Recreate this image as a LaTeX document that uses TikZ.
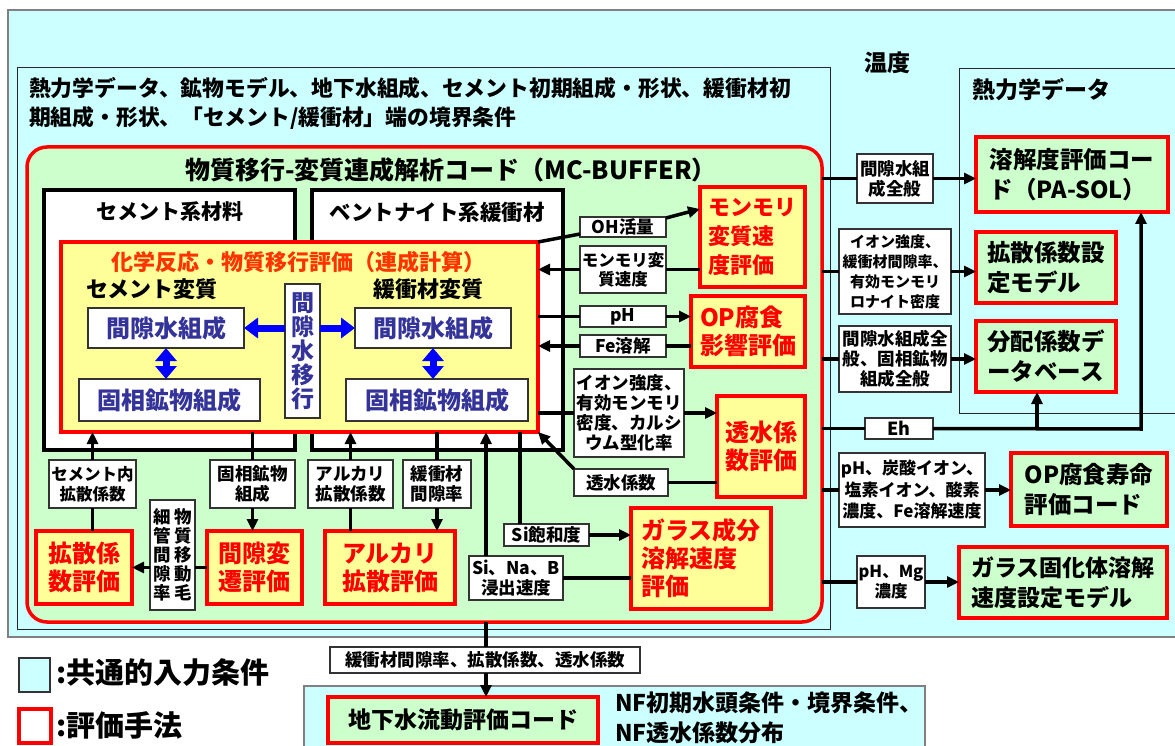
\documentclass[tikz,border=0pt]{standalone}
\usepackage{fontspec}
\setmainfont{Noto Sans CJK JP}
\usetikzlibrary{arrows.meta,calc}
\definecolor{cy}{HTML}{CCFFFF}
\definecolor{gr}{HTML}{CCFFCC}
\definecolor{ye}{HTML}{FFFF99}
\definecolor{nv}{HTML}{333399}
\definecolor{bl}{HTML}{0000FF}
\definecolor{og}{HTML}{FF3300}
\definecolor{rd}{HTML}{FF0000}
\newcommand\fz[2]{\fontsize{#1}{#2}\selectfont\bfseries}
\newcommand\bx[7]{\node[#1, minimum width={(#5)-(#3)}, minimum height={(#6)-(#4)}] (#2) at ({((#3)+(#5))/2},{((#4)+(#6))/2}) {#7};}
\tikzset{
 every node/.style={inner sep=0pt, outer sep=0pt, font=\bfseries},
 lab/.style={draw=black!80, line width=1.2pt, fill=white, align=center, font=\fz{17.5}{20}},
 evl/.style={draw=rd, line width=3.5pt, fill=ye, text=rd, align=left, font=\fz{24}{28}},
 evg/.style={draw=rd, line width=3.5pt, fill=gr, align=left, font=\fz{23.5}{30}},
 blu/.style={draw=black!80, line width=1.2pt, fill=white, text=nv, font=\fz{24}{24}},
 conn/.style={line width=3.5pt, black},
 arr/.style={conn, -{Triangle[length=12pt,width=11pt]}},
 blarr/.style={line width=7pt, bl, -{Triangle[length=14pt,width=20pt]}},
 bldarr/.style={line width=7pt, bl, {Triangle[length=13pt,width=21pt]}-{Triangle[length=13pt,width=21pt]}},
}
\begin{document}
\begin{tikzpicture}[x=1pt,y=-1pt]
\useasboundingbox (0,0) rectangle (1175,746);
% common input frames
\bx{draw=black!50, line width=2pt, fill=cy}{outer}{8}{10}{1190}{637}{}
\bx{draw=black!85, line width=1pt, fill=cy}{inl}{17}{68}{830}{629}{}
\bx{draw=black!85, line width=1pt, fill=cy}{inr}{959}{69}{1195}{413}{}
\node[anchor=west, align=left, font=\fz{21.8}{29}] (intext) at (29,103) {熱力学データ、鉱物モデル、地下水組成、セメント初期組成・形状、緩衝材初\\期組成・形状、「セメント/緩衝材」端の境界条件};
\node[font=\fz{23}{23}] (ondo) at (887,63) {温度};
\node[anchor=west, font=\fz{23}{23}] (netsu) at (972,90) {熱力学データ};
% MC-BUFFER
\bx{draw=rd, line width=3.5pt, fill=gr, rounded corners=20pt}{mc}{27}{147}{822}{622}{}
\node[font=\fz{25}{25}] (mct) at (451,170) {物質移行-変質連成解析コード（MC-BUFFER）};
\bx{draw=black, line width=4pt, fill=white}{cem}{44}{190}{295}{450}{}
\bx{draw=black, line width=4pt, fill=white}{ben}{312}{190}{563}{450}{}
\node[font=\fz{21}{21}] (cemt) at (170,212) {セメント系材料};
\node[font=\fz{21.5}{21}] (bent) at (437,212) {ベントナイト系緩衝材};
% coupled calculation
\bx{draw=rd, line width=3.5pt, fill=ye}{yel}{61}{242}{538}{432}{}
\node[text=og, font=\fz{22}{22}] (yt) at (298,262) {化学反応・物質移行評価（連成計算）};
\node[font=\fz{22}{22}] (cemh) at (152,289) {セメント変質};
\node[font=\fz{22}{22}] (benh) at (428,289) {緩衝材変質};
\bx{blu}{bl1}{88}{308}{244}{348}{間隙水組成}
\bx{blu}{bl2}{79}{379}{260}{421}{固相鉱物組成}
\bx{blu}{br1}{355}{308}{511}{348}{間隙水組成}
\bx{blu}{br2}{346}{379}{528}{421}{固相鉱物組成}
\bx{blu, font=\fz{23}{24}, align=center}{kv}{285}{284}{320}{418}{間\\隙\\水\\移\\行}
\draw[blarr] (kv.west |- bl1.east) -- (bl1.east);
\draw[blarr] (kv.east |- br1.west) -- (br1.west);
\draw[bldarr] (bl1.south) -- (bl1.south |- bl2.north);
\draw[bldarr] (br1.south) -- (br1.south |- br2.north);
% right-side evaluations inside MC-BUFFER
\bx{lab}{oh}{580}{217}{666}{237}{OH活量}
\bx{lab, font=\fz{16.5}{19}}{msl}{580}{246}{666}{293}{モンモリ変\\質速度}
\bx{lab}{ph}{580}{306}{666}{327}{pH}
\bx{lab}{fe}{580}{335}{666}{357}{Fe溶解}
\bx{lab}{ion}{574}{369}{684}{457}{イオン強度、\\有効モンモリ\\密度、カルシ\\ウム型化率}
\bx{lab}{tsl}{574}{469}{668}{496}{透水係数}
\bx{lab}{sih}{504}{524}{589}{546}{Si飽和度}
\bx{lab}{sinab}{469}{556}{563}{600}{Si、Na、B\\浸出速度}
\bx{evl, font=\fz{22}{29}}{mon}{700}{187}{805}{287}{モンモリ\\変質速\\度評価}
\bx{evl}{op}{691}{296}{805}{367}{OP腐食\\影響評価}
\bx{evl}{tse}{717}{396}{805}{497}{透水係\\数評価}
\bx{evl}{glass}{631}{508}{771}{609}{ガラス成分\\溶解速度\\評価}
\draw[conn] (yel.north east) -- ($(oh.west)+(0,7)$);
\draw[arr] ($(oh.east)+(0,-9)$) -- ($(mon.north west)+(0,22)$);
\draw[conn] (mon.west |- msl) -- (msl.east);
\draw[arr] (msl.west) -- (yel.east |- msl);
\draw[conn] (yel.east |- ph) -- (ph.west);
\draw[arr] (ph.east) -- (op.west |- ph);
\draw[conn] (op.west |- fe) -- (fe.east);
\draw[arr] (fe.west) -- (yel.east |- fe);
\draw[conn] (yel.east |- ion) -- (ion.west);
\draw[arr] (ion.east) -- (tse.west |- ion);
\draw[conn] (tse.west |- tsl) -- (tsl.east);
\draw[arr] (tsl.north west) -- (yel.south east);
\coordinate (sx) at (486,0);
\coordinate (sx2) at (520,0);
\draw[arr] (sinab.north -| sx) -- (yel.south -| sx);
\draw[conn] (yel.south -| sx2) -- (sih.north -| sx2);
\draw[arr] (sih.east) -- (glass.west |- sih);
\draw[conn] (glass.west |- sinab) -- (sinab.east);
% bottom-left evaluations
\bx{lab, font=\fz{16.5}{20}}{semlab}{49}{460}{136}{508}{セメント内\\拡散係数}
\bx{lab}{koso}{210}{460}{295}{508}{固相鉱物\\組成}
\bx{lab}{alklab}{308}{460}{393}{508}{アルカリ\\拡散係数}
\bx{lab}{kanlab}{403}{460}{471}{508}{緩衝材\\間隙率}
\bx{lab, font=\fz{17.5}{19}}{vl}{150}{500}{195}{610}{細\hspace{4pt}物\\管\hspace{4pt}質\\間\hspace{4pt}移\\隙\hspace{4pt}動\\率\hspace{4pt}毛}
\bx{evl}{kakusan}{36}{531}{132}{604}{拡散係\\数評価}
\bx{evl}{kanhen}{207}{531}{302}{604}{間隙変\\遷評価}
\bx{evl}{alkhyo}{325}{531}{455}{604}{アルカリ\\拡散評価}
\draw[conn] (kakusan.north -| semlab) -- (semlab.south);
\draw[arr] (semlab.north) -- (semlab.north |- yel.south);
\draw[conn] (koso.north |- yel.south) -- (koso.north);
\draw[arr] (koso.south) -- (koso.south |- kanhen.north);
\draw[conn] (alkhyo.north -| alklab) -- (alklab.south);
\draw[arr] (alklab.north) -- (alklab.north |- yel.south);
\draw[conn] (kanlab.north |- yel.south) -- (kanlab.north);
\draw[arr] (kanlab.south) -- (kanlab.south |- alkhyo.north);
\draw[conn] (kanhen.west) -- (vl.east |- kanhen.west);
\draw[arr] (vl.west |- kakusan.east) -- (kakusan.east);
% right column
\bx{evg}{sol}{976}{137}{1168}{212}{溶解度評価コー\\ド（PA-SOL）}
\bx{evg}{kdm}{976}{232}{1116}{303}{拡散係数設\\定モデル}
\bx{evg}{bunpai}{976}{321}{1116}{392}{分配係数デ\\ータベース}
\bx{evg}{opl}{1011}{453}{1167}{526}{OP腐食寿命\\評価コード}
\bx{evg, font=\fz{23}{30}}{gls}{959}{547}{1167}{618}{ガラス固化体溶解\\速度設定モデル}
\bx{lab}{kl1}{857}{154}{933}{203}{間隙水組\\成全般}
\bx{lab, font=\fz{15}{20}}{kl2}{839}{229}{951}{314}{イオン強度、\\緩衝材間隙率、\\有効モンモリ\\ロナイト密度}
\bx{lab}{kl3}{839}{326}{951}{392}{間隙水組成全\\般、固相鉱物\\組成全般}
\bx{lab, font=\fz{18}{20}}{eh}{865}{418}{933}{439}{Eh}
\bx{lab, font=\fz{17}{21.5}}{kl5}{839}{453}{985}{527}{pH、炭酸イオン、\\塩素イオン、酸素\\濃度、Fe溶解速度}
\bx{lab, font=\fz{16.5}{20}}{kl6}{857}{556}{925}{608}{pH、Mg\\濃度}
\draw[conn] (mc.east |- kl1) -- (kl1.west);
\draw[arr] (kl1.east) -- (sol.west |- kl1);
\draw[conn] (mc.east |- kl2) -- (kl2.west);
\draw[arr] (kl2.east) -- (kdm.west |- kl2);
\draw[conn] (mc.east |- kl3) -- (kl3.west);
\draw[arr] (kl3.east) -- (bunpai.west |- kl3);
\draw[conn] (mc.east |- eh) -- (eh.west);
\coordinate (ehc) at (1141,429);
\coordinate (ehb) at (1037,429);
\draw[arr] (eh.east) -- (ehc) -- (ehc |- sol.south);
\draw[arr] (ehb) -- (ehb |- bunpai.south);
\draw[conn] (mc.east |- kl5) -- (kl5.west);
\draw[arr] (kl5.east) -- (opl.west |- kl5);
\draw[conn] (mc.east |- kl6) -- (kl6.west);
\draw[arr] (kl6.east) -- (gls.west |- kl6);
% bottom
\bx{draw=black!50, line width=1.5pt, fill=cy}{lowc}{304}{686}{925}{770}{}
\bx{lab}{blab}{330}{647}{640}{673}{緩衝材間隙率、拡散係数、透水係数}
\bx{evg, font=\fz{23}{23}}{gw}{328}{697}{598}{743}{地下水流動評価コード}
\node[anchor=west, align=left, font=\fz{23}{30}] (nf) at (615,718) {NF初期水頭条件・境界条件、\\NF透水係数分布};
\draw[conn] (mc.south -| sx) -- (blab.north -| sx);
\draw[arr] (blab.south -| sx) -- (gw.north -| sx);
% legend
\bx{draw=black!80, line width=1.2pt, fill=cy}{lg1}{19}{658}{50}{692}{}
\bx{draw=rd, line width=3.5pt, fill=white}{lg2}{19}{709}{51}{743}{}
\node[anchor=west, font=\fz{29}{29}] (lt1) at (56,673) {:共通的入力条件};
\node[anchor=west, font=\fz{29}{29}] (lt2) at (56,725) {:評価手法};
\end{tikzpicture}
\end{document}
